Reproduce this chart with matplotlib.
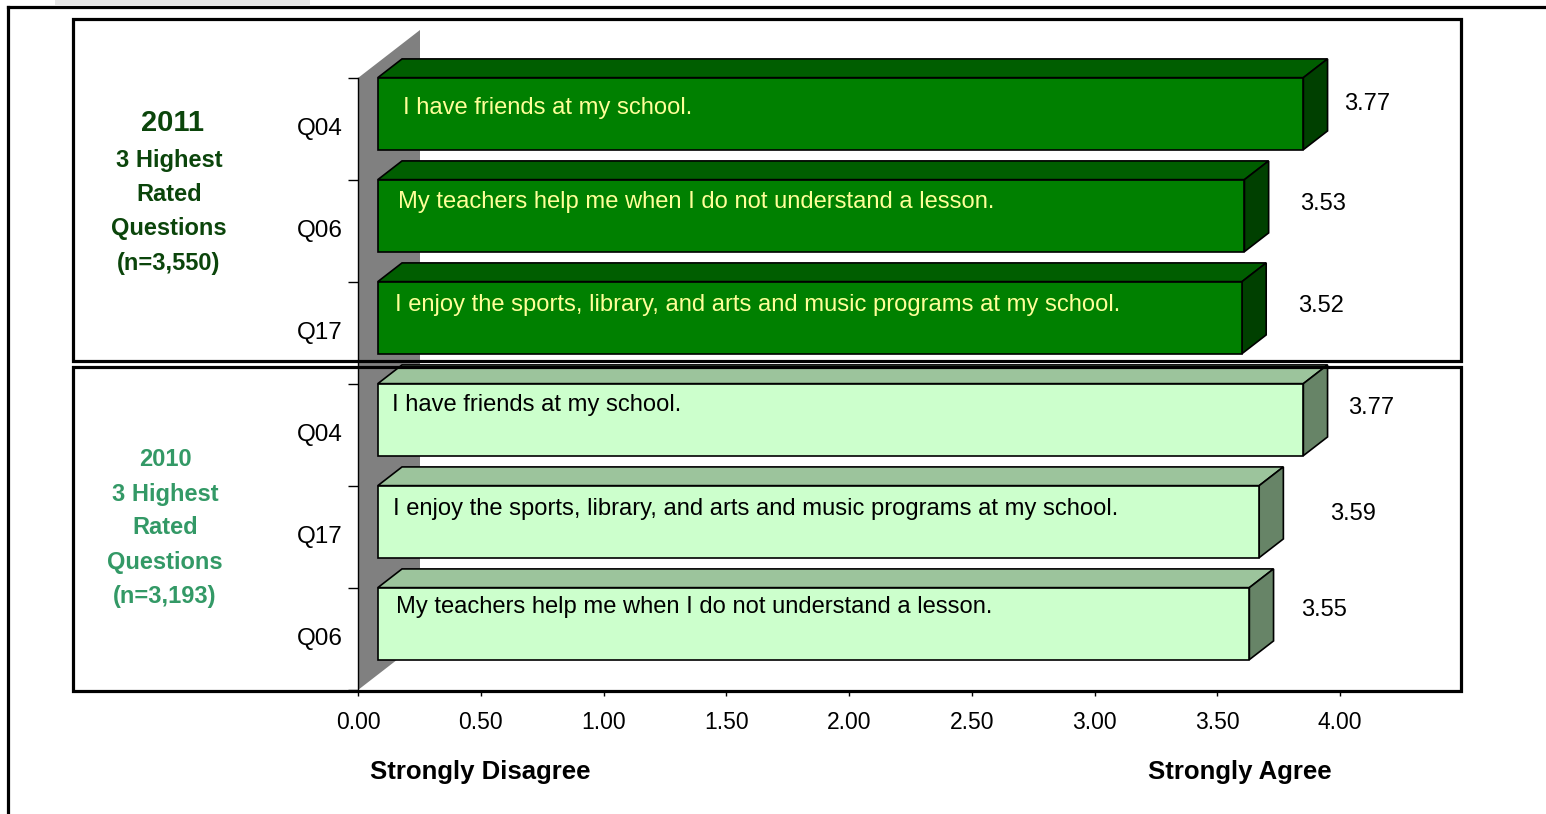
import matplotlib
matplotlib.use('Agg')
import matplotlib.pyplot as plt
from matplotlib.patches import Polygon, Rectangle
from matplotlib.lines import Line2D
from matplotlib.transforms import IdentityTransform, ScaledTranslation
import numpy as np

# 2011 survey, three highest rated questions (top to bottom)
codes_2011 = ['Q04', 'Q06', 'Q17']
scores_2011 = [3.77, 3.53, 3.52]
items_2011 = [
    'I have friends at my school.',
    'My teachers help me when I do not understand a lesson.',
    'I enjoy the sports, library, and arts and music programs at my school.',
]

# 2010 survey
codes_2010 = ['Q04', 'Q17', 'Q06']
scores_2010 = [3.77, 3.59, 3.55]
items_2010 = [
    'I have friends at my school.',
    'I enjoy the sports, library, and arts and music programs at my school.',
    'My teachers help me when I do not understand a lesson.',
]

x_ticks = [0.0, 0.5, 1.0, 1.5, 2.0, 2.5, 3.0, 3.5, 4.0]

plt.rcParams['font.family'] = ['Liberation Sans', 'DejaVu Sans']

W, H = 1546, 814
fig = plt.figure(figsize=(W / 100, H / 100), dpi=100)


def fx(px):
    return px / W


def fy(py):
    return 1 - py / H


ax = fig.add_axes([fx(358), fy(690), fx(1340) - fx(358), fy(78) - fy(690)])
ax.set_xlim(0, 4)
ax.set_ylim(5.5, -0.5)

# fake 3-D: depth offset of the back wall in pixels
DEPTH = np.array([62.0, 48.0])
BAR_FRONT, BAR_BACK = 0.32, 0.71
HALF = 0.353


def face(points, **kw):
    """points are (x, y, depth) with depth 0 = front plane, 1 = back wall"""
    xy = ax.transData.transform([(p[0], p[1]) for p in points])
    xy = xy + np.outer([p[2] for p in points], DEPTH)
    ax.add_patch(Polygon(xy, closed=True, transform=IdentityTransform(),
                         clip_on=False, **kw))


# back wall
face([(0, 5.5, 0), (0, -0.5, 0), (0, -0.5, 1), (0, 5.5, 1)],
     facecolor='#808080', edgecolor='none', zorder=1)

dark = ('#008000', '#005e00', '#004000', '#ffff99')
light = ('#ccffcc', '#9cc49c', '#678467', 'black')

rows = []
for c, v, t in zip(codes_2011, scores_2011, items_2011):
    rows.append((c, v, t, dark))
for c, v, t in zip(codes_2010, scores_2010, items_2010):
    rows.append((c, v, t, light))

# hand placed text inside the bars (px right of / below the front face corner)
text_dx = [25, 20, 17, 14, 15, 18]
text_dy = [28, 20, 21, 19, 21, 17]
# hand placed value labels (px right of the bar end / above the row centre)
label_dx = [84, 98, 99, 88, 114, 94]
label_dy = [27, 29, 29, 29, 25, 31]

f1, f2 = BAR_FRONT, BAR_BACK
for i, (code, v, text, pal) in enumerate(rows):
    top, bot = i - HALF, i + HALF
    ekw = dict(edgecolor='black', linewidth=1.2, joinstyle='miter', zorder=2)
    face([(0, top, f1), (v, top, f1), (v, top, f2), (0, top, f2)],
         facecolor=pal[1], **ekw)
    face([(v, top, f1), (v, bot, f1), (v, bot, f2), (v, top, f2)],
         facecolor=pal[2], **ekw)
    face([(0, top, f1), (v, top, f1), (v, bot, f1), (0, bot, f1)],
         facecolor=pal[0], **ekw)
    ax.annotate(text, xy=(0, top),
                xytext=(f1 * DEPTH[0] + text_dx[i], f1 * DEPTH[1] - text_dy[i]),
                textcoords='offset pixels', ha='left', va='center_baseline',
                color=pal[3], fontsize=17.1, zorder=3, annotation_clip=False)
    ax.annotate(f'{v:.2f}', xy=(v, i), xytext=(label_dx[i], label_dy[i]),
                textcoords='offset pixels', ha='center', va='center_baseline',
                color='black', fontsize=17, annotation_clip=False)

# axes
ax.set_xticks(x_ticks)
ax.set_xticklabels([f'{t:.2f}' for t in x_ticks])
ax.set_yticks(np.arange(-0.5, 6, 1.0))
ax.set_yticklabels([])
ax.set_yticks(range(6), minor=True)
ax.set_yticklabels([r[0] for r in rows], minor=True)
ax.tick_params(axis='x', length=4.5, width=1, pad=10.5, labelsize=16.5)
ax.tick_params(axis='y', which='major', length=7.5, width=1)
ax.tick_params(axis='y', which='minor', length=0, pad=11, labelsize=17.5)
lift = ScaledTranslation(0, 3 / 100, fig.dpi_scale_trans)
for lbl in ax.get_yticklabels(minor=True):
    lbl.set_transform(lbl.get_transform() + lift)
for s in ('top', 'right', 'bottom'):
    ax.spines[s].set_visible(False)
ax.spines['left'].set_linewidth(1)
ax.spines['left'].set_zorder(2.5)
ax.patch.set_visible(False)

# section frames
for y0, y1 in ((19, 361), (367, 691)):
    fig.add_artist(Rectangle((fx(73), fy(y1)), fx(1461) - fx(73), fy(y0) - fy(y1),
                             fill=False, edgecolor='black', linewidth=2.3, zorder=5))

# outer frame
fig.add_artist(Line2D([fx(8), fx(1546)], [fy(7), fy(7)], color='black', lw=2.3, zorder=5))
fig.add_artist(Line2D([fx(8), fx(8)], [fy(7), fy(814)], color='black', lw=2.3, zorder=5))
fig.add_artist(Rectangle((fx(55), fy(5)), fx(310) - fx(55), fy(0) - fy(5),
                         facecolor='#e6e6e6', edgecolor='none', zorder=4))

# group captions
fig.text(fx(172), fy(123), '2011', ha='center', va='center', fontsize=21,
         fontweight='bold', color='#0b450b')
for k, line in enumerate(['3 Highest', 'Rated', 'Questions', '(n=3,550)']):
    fig.text(fx(169), fy(160 + 34.5 * k), line, ha='center', va='center',
             fontsize=17, fontweight='bold', color='#0b450b')
for k, line in enumerate(['2010', '3 Highest', 'Rated', 'Questions', '(n=3,193)']):
    fig.text(fx(165), fy(460 + 34 * k), line, ha='center', va='center',
             fontsize=17, fontweight='bold', color='#339966')

fig.text(fx(480), fy(772), 'Strongly Disagree', ha='center', va='center',
         fontsize=18.5, fontweight='bold')
fig.text(fx(1240), fy(772), 'Strongly Agree', ha='center', va='center',
         fontsize=18.5, fontweight='bold')

fig.savefig('out.png', dpi=100)
